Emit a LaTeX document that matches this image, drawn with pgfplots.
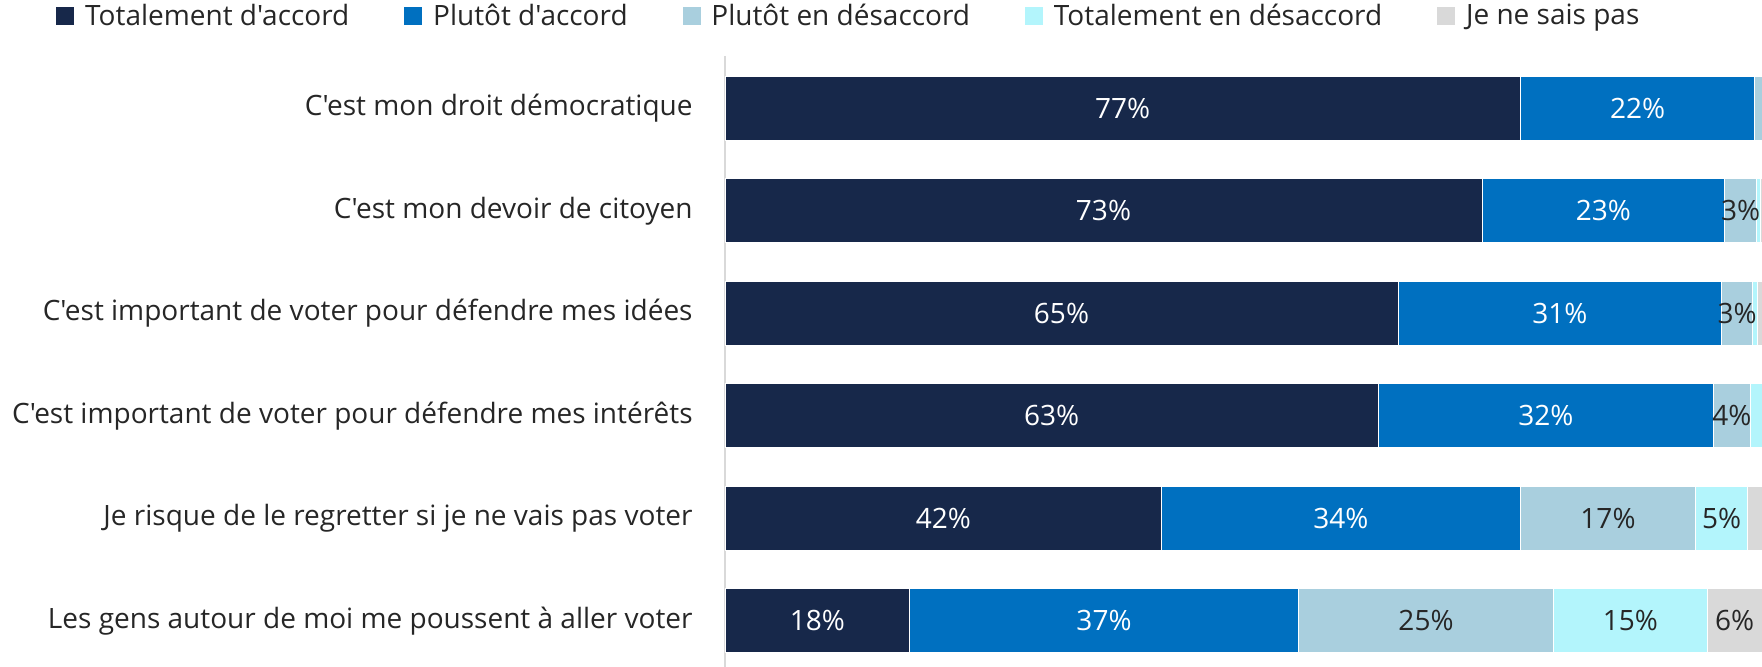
\documentclass[border=0pt]{standalone}
\usepackage{fontspec}
\setmainfont{Open Sans}[Ligatures=TeXOff]
\usepackage{pgfplots}
\pgfplotsset{compat=1.18}
\definecolor{c1}{HTML}{17284A}
\definecolor{c2}{HTML}{0070C0}
\definecolor{c3}{HTML}{A9CFDE}
\definecolor{c4}{HTML}{B3F5FC}
\definecolor{c5}{HTML}{D9D9D9}
\definecolor{txt}{HTML}{262626}
\newcommand{\f}{\fontsize{14bp}{16bp}\selectfont}
\pgfplotsset{myleg/.style={legend image code/.code={\fill[##1] (0bp,-4.75bp) rectangle (9.5bp,4.75bp);}}}
\begin{document}
\begin{tikzpicture}
\useasboundingbox (0,0) rectangle (881bp,333.5bp);
\begin{axis}[
  at={(362.5bp,0bp)}, anchor=south west,
  width=518.5bp, height=305.5bp, scale only axis,
  xbar stacked, bar width=32bp,
  xmin=0, xmax=100,
  ymin=-0.51, ymax=5.45, y dir=reverse,
  axis x line=none,
  axis y line*=left,
  y axis line style={draw=c5, line width=1bp, -},
  ytick={0,...,5},
  yticklabels={C'est mon droit démocratique, C'est mon devoir de citoyen, C'est important de voter pour défendre mes idées, C'est important de voter pour défendre mes intérêts, Je risque de le regretter si je ne vais pas voter, Les gens autour de moi me poussent à aller voter},
  major tick length=0pt,
  yticklabel style={font=\f, text=txt, inner sep=0pt, xshift=-16bp},
  point meta=explicit symbolic,
  nodes near coords={\pgfplotspointmeta},
  every node near coord/.append style={anchor=center, font=\f, text=txt},
  legend columns=5,
  legend style={draw=none, fill=none, inner sep=0pt, font=\f, text=txt,
    at={(rel axis cs:0,1)}, anchor=west, xshift=-335bp, yshift=20bp,
    nodes={inner sep=0pt},
    /tikz/every even column/.append style={column sep=27bp},
    /tikz/every odd column/.append style={column sep=5bp}},
]
\addplot[myleg, fill=c1, draw=white, line width=0.4bp, every node near coord/.append style={text=white}] coordinates {(76.7,0)[77\%] (73.0,1)[73\%] (64.9,2)[65\%] (63.0,3)[63\%] (42.1,4)[42\%] (17.8,5)[18\%]};
\addplot[myleg, fill=c2, draw=white, line width=0.4bp, every node near coord/.append style={text=white}] coordinates {(22.6,0)[22\%] (23.4,1)[23\%] (31.2,2)[31\%] (32.3,3)[32\%] (34.6,4)[34\%] (37.5,5)[37\%]};
\addplot[myleg, fill=c3, draw=white, line width=0.4bp] coordinates {(0.7,0)[] (3.1,1)[3\%] (3.0,2)[3\%] (3.6,3)[4\%] (16.9,4)[17\%] (24.6,5)[25\%]};
\addplot[myleg, fill=c4, draw=white, line width=0.4bp] coordinates {(0,0)[] (0.3,1)[] (0.5,2)[] (1.1,3)[] (5.0,4)[5\%] (14.8,5)[15\%]};
\addplot[myleg, fill=c5, draw=white, line width=0.4bp] coordinates {(0,0)[] (0.2,1)[] (0.4,2)[] (0,3)[] (1.4,4)[] (5.3,5)[6\%]};
\legend{Totalement d'accord, Plutôt d'accord, Plutôt en désaccord, Totalement en désaccord, Je ne sais pas}
\end{axis}
\end{tikzpicture}
\end{document}
